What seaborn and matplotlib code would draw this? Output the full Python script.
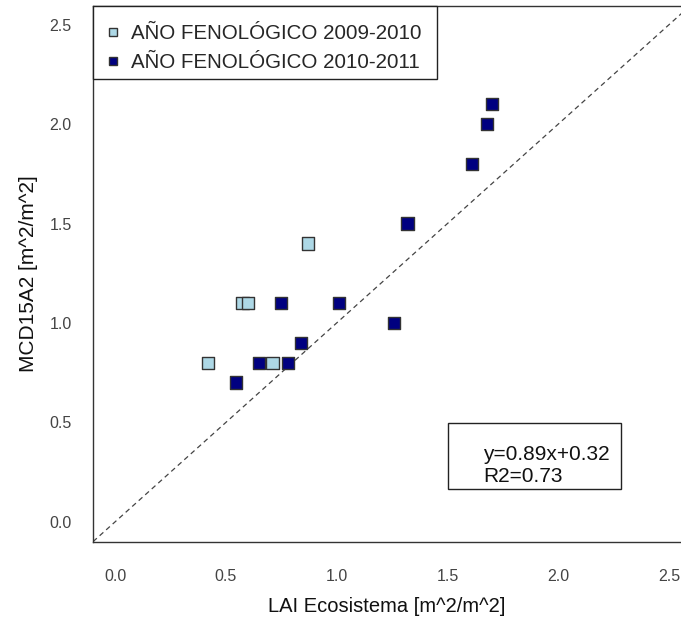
import matplotlib
matplotlib.use("Agg")
import matplotlib.pyplot as plt
import seaborn as sns
import pandas as pd
from matplotlib.patches import Rectangle

# Data
label_a = "AÑO FENOLÓGICO 2009-2010"
label_b = "AÑO FENOLÓGICO 2010-2011"
x_a = [0.42, 0.575, 0.60, 0.71, 0.87]
y_a = [0.80, 1.10, 1.10, 0.80, 1.40]
x_b = [0.545, 0.65, 0.75, 0.78, 0.84, 1.01, 1.26, 1.32, 1.61, 1.68, 1.70]
y_b = [0.70, 0.80, 1.10, 0.80, 0.90, 1.10, 1.00, 1.50, 1.80, 2.00, 2.10]
ticks = [0.0, 0.5, 1.0, 1.5, 2.0, 2.5]
tick_labels = ["0.0", "0.5", "1.0", "1.5", "2.0", "2.5"]
eq_text = "y=0.89x+0.32\nR2=0.73"

df = pd.DataFrame({
    "x": x_a + x_b,
    "y": y_a + y_b,
    "grupo": [label_a] * len(x_a) + [label_b] * len(x_b),
})

sns.set_style("white")
plt.rcParams["font.family"] = ["Liberation Sans", "DejaVu Sans"]

fig = plt.figure(figsize=(6.81, 6.29), dpi=100)
ax = fig.add_axes([0.1361, 0.1388, 0.8639, 0.8517])

lims = (-0.1, 2.6)
ax.plot(lims, lims, linestyle=(0, (4, 3)), color="#444444", linewidth=0.9, zorder=1)

sns.scatterplot(data=df, x="x", y="y", hue="grupo",
                palette={label_a: "#add8e6", label_b: "#000080"},
                marker="s", s=78, edgecolor="#333333", linewidth=1.0,
                ax=ax, zorder=3)

ax.set_xlim(-0.102, 2.555)
ax.set_ylim(-0.1007, 2.595)
ax.set_xticks(ticks)
ax.set_xticklabels(tick_labels)
ax.set_yticks(ticks)
ax.set_yticklabels(tick_labels)

ax.tick_params(axis="both", direction="in", length=8, width=1.0,
               color="#222222", labelsize=11.5, labelcolor="#444444")
ax.tick_params(axis="x", pad=20)
ax.tick_params(axis="y", pad=15)

for side in ["left", "bottom", "top"]:
    ax.spines[side].set_visible(True)
    ax.spines[side].set_color("#333333")
    ax.spines[side].set_linewidth(1.0)
ax.spines["right"].set_visible(False)

ax.set_xlabel("LAI Ecosistema [m^2/m^2]", fontsize=14.5, color="#111111", labelpad=9)
ax.set_ylabel("MCD15A2 [m^2/m^2]", fontsize=15, color="#111111", labelpad=8)

leg = ax.legend(loc="upper left", bbox_to_anchor=(0.021, 0.966), frameon=False,
                fontsize=14.8, handletextpad=0.45, borderpad=0.0,
                labelspacing=0.5, handlelength=0.8, borderaxespad=0.0,
                markerscale=0.65)
for h in leg.legend_handles:
    try:
        h.set_markeredgecolor("#333333")
    except AttributeError:
        h.set_edgecolor("#333333")

ax.add_patch(Rectangle((0.0, 0.8632), 0.5847, 0.1368, transform=ax.transAxes,
                       fill=True, facecolor="white", edgecolor="#222222",
                       linewidth=1.0, zorder=4, clip_on=False))
leg.set_zorder(5)

ax.add_patch(Rectangle((0.604, 0.098), 0.2945, 0.1232, transform=ax.transAxes,
                       fill=False, edgecolor="#222222", linewidth=1.0, zorder=4))
ax.text(0.664, 0.1422, eq_text, transform=ax.transAxes, fontsize=15,
        va="center", ha="left", linespacing=1.25, color="#111111")

fig.savefig("out.png", dpi=100)
